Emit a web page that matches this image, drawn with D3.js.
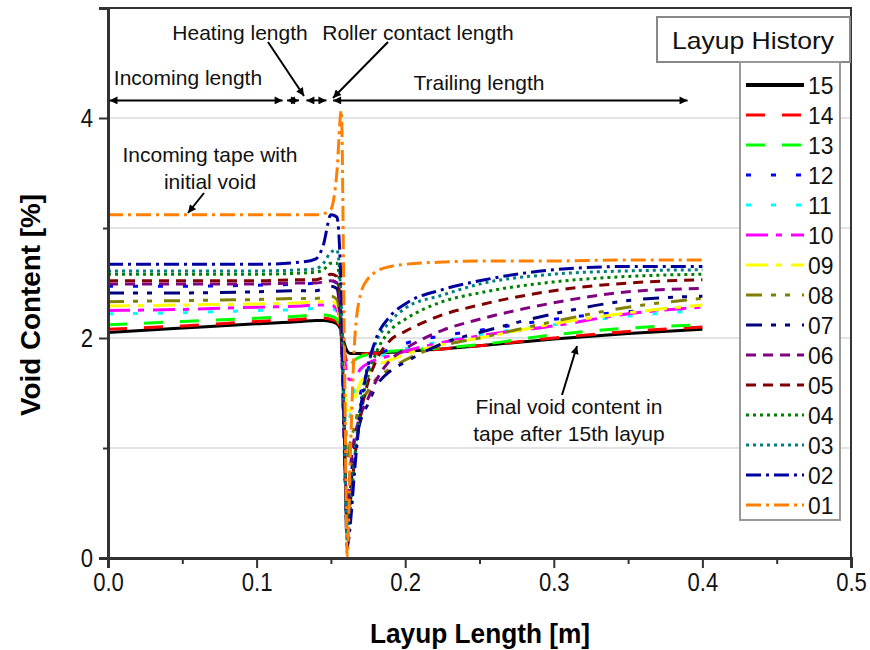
<!DOCTYPE html>
<html>
<head>
	<meta charset="utf-8">
	<title>Void Content vs Layup Length</title>
	<script type="text/javascript" src="https://cdn.jsdelivr.net/npm/d3@7"></script>
	<style>
		body { margin: 0; background: #fff; }
		text { font-family: "Liberation Sans", Arial, sans-serif; }
	</style>
</head>
<body>
	<script type="text/javascript">
		// layup length positions shared by all curves [m]
		var layupX = [0, 0.05, 0.1, 0.13, 0.14, 0.145, 0.15, 0.154, 0.157, 0.159, 0.161, 0.163,
			0.166, 0.17, 0.175, 0.18, 0.19, 0.2, 0.225, 0.25, 0.3, 0.35, 0.4];

		// void content [%] per layup history
		var v15 = [2.05, 2.09, 2.13, 2.15, 2.16, 2.16, 2.15, 2.13, 2.06, 1.95, 1.88, 1.86, 1.86, 1.86, 1.86, 1.865, 1.87, 1.88, 1.90, 1.93, 1.99, 2.04, 2.08];
		var v14 = [2.08, 2.11, 2.15, 2.17, 2.18, 2.18, 2.17, 2.15, 2.05, 1.88, 1.78, 1.80, 1.83, 1.85, 1.86, 1.86, 1.87, 1.88, 1.90, 1.93, 2.00, 2.06, 2.10];
		var v13 = [2.12, 2.15, 2.18, 2.20, 2.21, 2.21, 2.20, 2.17, 2.05, 1.85, 1.72, 1.75, 1.80, 1.83, 1.85, 1.86, 1.88, 1.89, 1.91, 1.94, 2.03, 2.09, 2.12];
		var v12 = [2.47, 2.47, 2.48, 2.49, 2.50, 2.51, 2.52, 2.50, 2.00, 1.00, 0.20, 0.60, 1.10, 1.50, 1.72, 1.83, 1.90, 1.95, 2.02, 2.07, 2.17, 2.24, 2.27];
		var v11 = [2.22, 2.23, 2.25, 2.26, 2.27, 2.27, 2.27, 2.24, 2.00, 1.50, 1.10, 1.30, 1.55, 1.70, 1.78, 1.82, 1.86, 1.90, 1.97, 2.03, 2.12, 2.20, 2.25];
		var v10 = [2.25, 2.26, 2.28, 2.29, 2.30, 2.30, 2.30, 2.26, 2.10, 1.85, 1.65, 1.62, 1.64, 1.72, 1.77, 1.80, 1.84, 1.88, 1.96, 2.02, 2.11, 2.22, 2.28];
		var v09 = [2.29, 2.30, 2.31, 2.32, 2.33, 2.33, 2.34, 2.30, 2.05, 1.60, 1.30, 1.35, 1.45, 1.60, 1.68, 1.74, 1.80, 1.85, 1.94, 2.00, 2.13, 2.23, 2.30];
		var v08 = [2.33, 2.34, 2.35, 2.36, 2.36, 2.37, 2.38, 2.35, 2.00, 1.40, 0.90, 1.05, 1.20, 1.40, 1.52, 1.62, 1.72, 1.80, 1.93, 2.00, 2.15, 2.28, 2.36];
		var v07 = [2.41, 2.41, 2.42, 2.43, 2.43, 2.45, 2.47, 2.45, 2.00, 1.00, 0.30, 0.60, 1.00, 1.25, 1.40, 1.55, 1.70, 1.78, 1.95, 2.05, 2.22, 2.34, 2.38];
		var v06 = [2.49, 2.49, 2.49, 2.50, 2.50, 2.51, 2.52, 2.50, 2.00, 1.10, 0.40, 0.80, 1.10, 1.30, 1.45, 1.60, 1.80, 1.90, 2.07, 2.17, 2.32, 2.42, 2.45];
		var v05 = [2.52, 2.52, 2.52, 2.53, 2.53, 2.55, 2.58, 2.56, 2.10, 1.20, 0.25, 0.50, 0.90, 1.30, 1.60, 1.78, 1.98, 2.06, 2.21, 2.30, 2.43, 2.50, 2.53];
		var v04 = [2.58, 2.58, 2.58, 2.59, 2.60, 2.62, 2.68, 2.68, 2.20, 1.20, 0.20, 0.45, 0.90, 1.35, 1.65, 1.85, 2.07, 2.17, 2.33, 2.41, 2.51, 2.56, 2.58];
		var v03 = [2.61, 2.61, 2.61, 2.62, 2.63, 2.68, 2.78, 2.80, 2.30, 1.20, 0.15, 0.40, 0.90, 1.40, 1.75, 1.95, 2.15, 2.27, 2.39, 2.49, 2.58, 2.61, 2.62];
		var v02 = [2.67, 2.67, 2.67, 2.69, 2.72, 2.85, 3.12, 3.10, 2.40, 1.20, 0.10, 0.30, 0.80, 1.35, 1.75, 1.98, 2.20, 2.31, 2.44, 2.52, 2.62, 2.65, 2.65];
		var v01 = [3.12, 3.12, 3.12, 3.12, 3.12, 3.13, 3.17, 3.50, 4.07, 2.00, 0.02, 0.90, 1.98, 2.40, 2.54, 2.60, 2.65, 2.67, 2.69, 2.70, 2.70, 2.71, 2.71];

		var layupNames = ["15", "14", "13", "12", "11", "10", "09", "08", "07", "06", "05", "04", "03", "02", "01"];
		var layupValues = [v15, v14, v13, v12, v11, v10, v09, v08, v07, v06, v05, v04, v03, v02, v01];

		// Origin style colours and dash patterns
		var colors = ["#000000", "#ff0000", "#00ff00", "#0000ff", "#00ffff", "#ff00ff", "#ffff00", "#808000",
			"#000080", "#800080", "#800000", "#008000", "#008080", "#0000a0", "#ff8000"];
		var dashes = [null, "19,17", "19,17", "5,20", "5,20", "22,8,6,9", "22,8,6,9", "16,9,5,9,5,12",
			"16,9,5,9,5,12", "10,7", "10,7", "3,4", "3,4", "15,5,3,5", "15,5,3,5"];

		var xTicks = [0, 0.1, 0.2, 0.3, 0.4, 0.5];
		var xMinor = [0.05, 0.15, 0.25, 0.35, 0.45];
		var yTicks = [0, 2, 4];
		var yMinor = [1, 3, 5];
		var yGrid = [1, 2, 3, 4];

		// annotation spans along the top (layup length, m) and their arrow height (%)
		var spanStart = [0.001, 0.1205, 0.1335, 0.1515];
		var spanEnd = [0.1175, 0.1285, 0.147, 0.39];
		var spanLevel = 4.16;

		var svgWidth = 870;
		var svgHeight = 650;

		var svg = d3.select("body")
					.append("svg")
					.attr("width", svgWidth)
					.attr("height", svgHeight);

		var x = d3.scaleLinear().domain([0, 0.5]).range([108, 851]);
		var y = d3.scaleLinear().domain([0, 5]).range([558, 8]);

		// the original uses a narrow face; squeeze the glyphs of Liberation Sans instead
		function squeeze(sel, f) {
			sel.each(function(){
				var len = this.getComputedTextLength();
				d3.select(this)
					.attr("textLength", len * f)
					.attr("lengthAdjust", "spacingAndGlyphs");
			});
		}

		// arrow heads
		var defs = svg.append("defs");
		defs.append("marker")
			.attr("id", "head")
			.attr("viewBox", "0 0 10 10")
			.attr("refX", 10).attr("refY", 5)
			.attr("markerWidth", 12).attr("markerHeight", 8)
			.attr("markerUnits", "userSpaceOnUse")
			.attr("orient", "auto-start-reverse")
			.append("path")
			.attr("d", "M0,0 L10,5 L0,10 z")
			.attr("fill", "#000");

		// grid
		svg.append("g").selectAll("line")
			.data(yGrid)
			.enter()
			.append("line")
			.attr("x1", x(0)).attr("x2", x(0.5))
			.attr("y1", function(d){ return y(d); })
			.attr("y2", function(d){ return y(d); })
			.attr("stroke", "#e3e3e3")
			.attr("stroke-width", 2);

		// curves
		var line = d3.line()
			.x(function(d){ return x(d[0]); })
			.y(function(d){ return y(d[1]); })
			.curve(d3.curveMonotoneX);

		svg.append("g").selectAll("path")
			.data(layupValues)
			.enter()
			.append("path")
			.attr("d", function(vals){
				return line(vals.map(function(v, i){ return [layupX[i], v]; }));
			})
			.attr("fill", "none")
			.attr("stroke", function(d, i){ return colors[i]; })
			.attr("stroke-width", 3)
			.attr("stroke-dasharray", function(d, i){ return dashes[i]; });

		// frame
		svg.append("rect")
			.attr("x", x(0)).attr("y", y(5))
			.attr("width", x(0.5) - x(0))
			.attr("height", y(0) - y(5))
			.attr("fill", "none")
			.attr("stroke", "#333")
			.attr("stroke-width", 2);

		// axes
		var xAxis = d3.axisBottom(x).tickValues(xTicks).tickFormat(d3.format(".1f")).tickSize(10).tickPadding(5);
		var xAxisMinor = d3.axisBottom(x).tickValues(xMinor).tickFormat("").tickSize(6);
		var yAxis = d3.axisLeft(y).tickValues(yTicks).tickFormat(d3.format("d")).tickSize(9).tickPadding(6);
		var yAxisMinor = d3.axisLeft(y).tickValues(yMinor).tickFormat("").tickSize(5);

		svg.append("g").attr("transform", "translate(0," + y(0) + ")").call(xAxis);
		svg.append("g").attr("transform", "translate(0," + y(0) + ")").call(xAxisMinor);
		svg.append("g").attr("transform", "translate(" + x(0) + ",0)").call(yAxis);
		svg.append("g").attr("transform", "translate(" + x(0) + ",0)").call(yAxisMinor);

		svg.selectAll(".domain").attr("stroke", "#333").attr("stroke-width", 3);
		svg.selectAll(".tick line").attr("stroke", "#333").attr("stroke-width", 2);
		svg.selectAll(".tick text")
			.attr("font-family", "Liberation Sans, Arial, sans-serif")
			.attr("font-size", "26px")
			.attr("fill", "#111")
			.call(squeeze, 0.85);

		// axis titles
		svg.append("text")
			.attr("x", 480).attr("y", 643)
			.attr("text-anchor", "middle")
			.attr("font-size", "27px")
			.attr("font-weight", "bold")
			.attr("textLength", 220)
			.attr("lengthAdjust", "spacingAndGlyphs")
			.text("Layup Length [m]");

		svg.append("text")
			.attr("transform", "translate(40,305) rotate(-90)")
			.attr("text-anchor", "middle")
			.attr("font-size", "27px")
			.attr("font-weight", "bold")
			.attr("textLength", 222)
			.attr("lengthAdjust", "spacingAndGlyphs")
			.text("Void Content [%]");

		// spans along the top
		svg.append("g").selectAll("line")
			.data(spanStart)
			.enter()
			.append("line")
			.attr("x1", function(d){ return x(d); })
			.attr("x2", function(d, i){ return x(spanEnd[i]); })
			.attr("y1", y(spanLevel)).attr("y2", y(spanLevel))
			.attr("stroke", "#000")
			.attr("stroke-width", 2)
			.attr("marker-start", "url(#head)")
			.attr("marker-end", "url(#head)");

		var anno = svg.append("g").attr("font-size", "21px").attr("fill", "#111");
		anno.append("text").attr("x", 240).attr("y", 40).attr("text-anchor", "middle").text("Heating length");
		anno.append("text").attr("x", 418).attr("y", 40).attr("text-anchor", "middle").text("Roller contact length");
		anno.append("text").attr("x", 188).attr("y", 85).attr("text-anchor", "middle").text("Incoming length");
		anno.append("text").attr("x", 479).attr("y", 90).attr("text-anchor", "middle").text("Trailing length");
		anno.append("text").attr("x", 210).attr("y", 162).attr("text-anchor", "middle").text("Incoming tape with");
		anno.append("text").attr("x", 210).attr("y", 189).attr("text-anchor", "middle").text("initial void");
		anno.append("text").attr("x", 569).attr("y", 414).attr("text-anchor", "middle").text("Final void content in");
		anno.append("text").attr("x", 569).attr("y", 441).attr("text-anchor", "middle").text("tape after 15th layup");

		// leader arrows: [x1, y1, x2, y2] in pixels of the annotation layout
		var leaders = [[268, 42, 304, 96], [388, 42, 333, 98], [204, 193, 188, 213], [562, 395, 577, 346]];
		svg.append("g").selectAll("line")
			.data(leaders)
			.enter()
			.append("line")
			.attr("x1", function(d){ return d[0]; })
			.attr("y1", function(d){ return d[1]; })
			.attr("x2", function(d){ return d[2]; })
			.attr("y2", function(d){ return d[3]; })
			.attr("stroke", "#000")
			.attr("stroke-width", 2)
			.attr("marker-end", "url(#head)");

		// legend
		var legend = svg.append("g");
		legend.append("rect")
			.attr("x", 657).attr("y", 17).attr("width", 193).attr("height", 45)
			.attr("fill", "#fff").attr("stroke", "#888").attr("stroke-width", 2);
		legend.append("text")
			.attr("x", 753).attr("y", 49)
			.attr("text-anchor", "middle")
			.attr("font-size", "24px")
			.attr("fill", "#111")
			.attr("textLength", 162)
			.attr("lengthAdjust", "spacingAndGlyphs")
			.text("Layup History");
		legend.append("rect")
			.attr("x", 740).attr("y", 62).attr("width", 100).attr("height", 458)
			.attr("fill", "#fff").attr("stroke", "#999").attr("stroke-width", 2);

		var items = legend.selectAll("g.item")
			.data(layupNames)
			.enter()
			.append("g")
			.attr("class", "item")
			.attr("transform", function(d, i){ return "translate(0," + (85 + i * 30) + ")"; });
		items.append("line")
			.attr("x1", 746).attr("x2", 804)
			.attr("y1", 0).attr("y2", 0)
			.attr("stroke", function(d, i){ return colors[i]; })
			.attr("stroke-width", function(d, i){ return i === 0 ? 4 : 3; })
			.attr("stroke-dasharray", function(d, i){ return dashes[i]; });
		items.append("text")
			.attr("x", 808).attr("y", 9)
			.attr("font-size", "24px")
			.attr("fill", "#111")
			.text(function(d){ return d; })
			.call(squeeze, 0.95);
	</script>
</body>
</html>
